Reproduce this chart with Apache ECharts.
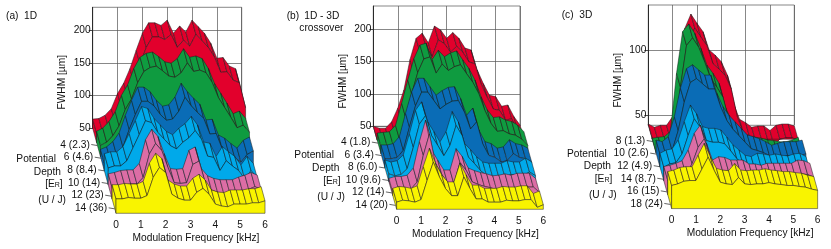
<!DOCTYPE html>
<html><head><meta charset="utf-8">
<script src="https://cdn.jsdelivr.net/npm/echarts@6/dist/echarts.min.js"></script>
<style>html,body{margin:0;padding:0;background:#fff}#c{width:831px;height:249px}</style>
</head><body><div id="c"></div>
<script>
const freqs=[0,.25,.5,.75,1,1.25,1.5,1.75,2,2.25,2.5,2.75,3,3.25,3.5,3.75,4,4.25,4.5,4.75,5,5.25,5.5,5.75,6];
const colors=['#e2002c','#0f9b40','#0a6cb6','#00a9ea','#dc6da5','#f9f400'];

// panel (a) 1D
const a4 =[64,65,70,80,103,119,141,169,195,211,211,207,215,195,206,197,215,205,195,180,157,158,145,141,103];
const a6 =[67,72,82,97,122,138,163,180,186,188,181,173,171,178,193,180,182,178,163,140,125,110,94,98,87];
const a8 =[61,65,73,86,113,136,156,156,149,136,127,129,141,162,149,139,130,106,107,83,78,70,63,75,80];
const a10=[76,79,79,87,107,127,148,145,130,120,110,105,115,122,133,120,94,92,72,87,79,72,59,72,61];
const a12=[67,69,72,73,73,83,119,135,124,98,75,74,75,103,108,75,64,60,58,58,58,62,65,69,65];
const a14=[72,72,74,73,73,77,105,120,112,79,73,70,70,82,88,79,64,61,60,64,64,64,66,66,69];
const depthA=['4 (2.3)','6 (4.6)','8 (8.4)','10 (14)','12 (23)','14 (36)'];

// panel (b) 1D - 3D crossover
const b4 =[50,47,47,57,78,106,153,186,194,179,205,199,186,195,186,171,168,137,116,98,96,81,83,65,52];
const b6 =[61,62,63,73,107,143,176,197,200,175,189,179,185,188,174,161,143,117,97,85,86,81,79,73,63];
const b8 =[64,64,66,77,113,146,167,167,154,141,148,153,154,136,110,121,87,69,66,59,61,72,66,64,59];
const b10=[62,59,61,70,103,139,152,121,106,90,106,137,121,88,78,67,59,57,57,57,61,59,59,65,59];
const b12=[55,58,58,60,71,112,145,99,83,68,68,101,89,71,67,64,62,59,60,62,60,63,63,63,55];
const b14=[61,64,63,61,65,95,123,100,82,71,71,100,82,66,66,61,61,61,64,63,63,65,65,53,57];
const depthB=['4 (1.8)','6 (3.4)','8 (6.0)','10 (9.6)','12 (14)','14 (20)'];

// panel (c) 3D
const c8 =[43,40.5,42,42,48.7,79,116.6,127.6,120.5,114,100,96,91,80.7,59,46.6,44,40.5,41.5,41.5,38,42,43,43,41.5];
const c10=[42.7,43.5,44,48,92.7,124.8,130.7,123.5,112,99,92.7,85,67,56.8,51.7,46.5,44,43.5,42.7,41.4,41,40,40,41.4,43.5];
const c12=[52,50.8,54.6,70,92,107,110,106,102,102,88,77.7,71,66,61,56,54.6,53,50.8,48,49.5,50.8,50.8,50.8,52];
const c14=[52.5,55,56,62.8,77,89.7,83,73,71.7,71.7,70.5,65,59,55,51,50,52.5,52,51,52,51,50.5,52,52.5,50];
const c16=[53,54,55.5,57.5,65.8,78.6,85,71,58,60.6,60,58,58,58,55,55,54,55.5,55.5,55.5,55.5,55.5,58,57.5,55.5];
const c18=[59.8,61,63,63.6,63.6,72.6,81.6,71.3,62.3,61,60.5,66,61,60.5,61,61,62,61,60.5,59.8,59.8,59,58.5,57,56];
const depthC=['8 (1.3)','10 (2.6)','12 (4.9)','14 (8.7)','16 (15)','18 (24)'];

const panels=[
 {rows:[a4,a6,a8,a10,a12,a14],depth:depthA,left:92.7,width:149,top:7.3,bottom:128.3,min:50,max:234.6,ticks:[50,100,150,200],
  shift:[23.33,85],lab:[1.18,.894],nameShift:11,yName:[26,29],title:[['(a)  1D',6,17]],
  side:[['Potential',56,159],['Depth',61,172],['[E{s|R}]',62.7,184],['(U / J)',66,200]]},
 {rows:[b4,b6,b8,b10,b12,b14],depth:depthB,left:373.3,width:146.7,top:6,bottom:126.3,min:50,max:236,ticks:[50,100,150,200],
  shift:[23.33,83],lab:[1.18,.9],nameShift:11,yName:[25,30],title:[['(b)\u20021D - 3D',286.7,17],['crossover',299.3,29]],
  side:[['Potential',334,155],['Depth',339.3,168],['[E{s|R}]',340.7,181],['(U / J)',345,197]]},
 {rows:[c8,c10,c12,c14,c16,c18],depth:depthC,left:648.3,width:146,top:5,bottom:125.3,min:42,max:134.6,ticks:[50,100],
  shift:[23.33,83.3],lab:[1.13,.907],nameShift:11,yName:[25,30],title:[['(c)  3D',561.7,16]],
  side:[['Potential',606.7,154],['Depth',611,166],['[E{s|R}]',612.3,179],['(U / J)',616.7,195]]}
];

const FONT='Liberation Sans, Arial, sans-serif';
const FS=10.2;
const xAxis=[],yAxis=[],grid=[],series=[],graphic=[];

panels.forEach((p,k)=>{
  const wall=k*2, front=k*2+1;
  const frontBottom=p.bottom+p.shift[1], frontLeft=p.left+p.shift[0];
  grid.push({left:p.left,width:p.width,top:p.top,height:p.bottom-p.top,show:true,backgroundColor:'transparent',borderColor:'#555',borderWidth:.7});
  grid.push({left:frontLeft,width:p.width,top:frontBottom-10,height:10});
  xAxis.push({gridIndex:wall,type:'value',min:0,max:6,interval:1,axisLine:{show:false},axisTick:{show:false},axisLabel:{show:false},
    splitLine:{show:true,lineStyle:{color:'#555',width:.7}}});
  yAxis.push({gridIndex:wall,type:'value',min:p.min,max:p.max,
    axisTick:{show:true,length:4,lineStyle:{color:'#222',width:.8},customValues:p.ticks},
    axisLine:{show:true,lineStyle:{color:'#222',width:.9}},
    axisLabel:{fontFamily:FONT,fontSize:FS,color:'#111',margin:2,customValues:p.ticks},
    splitLine:{show:true,lineStyle:{color:'#555',width:.7}},
    name:'FWHM [µm]',nameLocation:'middle',nameGap:p.yName[0],
    nameTextStyle:{fontFamily:FONT,fontSize:FS,color:'#111',padding:[0,p.yName[1],0,0]}});
  xAxis.push({gridIndex:front,type:'value',min:0,max:6,interval:1,axisLine:{show:false},axisTick:{show:false},
    axisLabel:{fontFamily:FONT,fontSize:FS,color:'#111',margin:6.5},splitLine:{show:false},
    name:'Modulation Frequency [kHz]',nameLocation:'middle',nameGap:20,
    nameTextStyle:{fontFamily:FONT,fontSize:FS,color:'#111',padding:[0,0,0,p.nameShift]}});
  yAxis.push({gridIndex:front,type:'value',min:0,max:1,show:false});

  const dStep=[p.shift[0]/6,p.shift[1]/6];
  const stroke={stroke:'#1a1a1a',lineWidth:.5,lineJoin:'round'};
  series.push({type:'custom',xAxisIndex:wall,yAxisIndex:wall,clip:false,silent:true,z:3,
    data:p.rows.map((r,i)=>[i]),encode:{x:0,y:0},
    renderItem:(params,api)=>{
      const i=api.value(0), vals=p.rows[i];
      const pt=(f,v,d)=>{const c=api.coord([f,v]);return [c[0]+d*dStep[0],c[1]+d*dStep[1]];};
      const kids=[];let z=i*100;
      const fill=colors[i];
      kids.push({type:'polygon',z2:z++,shape:{points:[pt(0,vals[0],i),pt(0,vals[0],i+1),pt(0,p.min,i+1),pt(0,p.min,i)]},style:{fill,...stroke}});
      for(let j=0;j<freqs.length-1;j++){
        kids.push({type:'polygon',z2:z,shape:{points:[pt(freqs[j],vals[j],i),pt(freqs[j+1],vals[j+1],i),pt(freqs[j+1],vals[j+1],i+1),pt(freqs[j],vals[j],i+1)]},style:{fill,...stroke}});
      }
      z++;
      const facePts=freqs.map((f,j)=>pt(f,vals[j],i+1));
      facePts.push(pt(6,p.min,i+1),pt(0,p.min,i+1));
      kids.push({type:'polygon',z2:z,shape:{points:facePts},style:{fill,...stroke}});
      return {type:'group',children:kids};
    }});
  series.push({type:'custom',xAxisIndex:wall,yAxisIndex:wall,clip:false,silent:true,z:2,
    data:p.depth.map((t,i)=>[i]),encode:{x:0,y:0},
    renderItem:(params,api)=>{
      const i=api.value(0), d=p.lab[0]+p.lab[1]*i;
      const c=api.coord([0,p.min]);const x=c[0]+d*dStep[0],y=c[1]+d*dStep[1];
      return {type:'group',children:[
        {type:'line',shape:{x1:x-6,y1:y-.5,x2:x,y2:y+.5},style:{stroke:'#222',lineWidth:.7}},
        {type:'text',style:{text:p.depth[i],x:x-7.5,y:y,align:'right',verticalAlign:'middle',fill:'#111',font:FS+'px '+FONT}}
      ]};
    }});
  p.title.forEach(t=>graphic.push({type:'text',left:t[1],top:t[2]-6,style:{text:t[0],fill:'#111',font:FS+'px '+FONT}}));
  p.side.forEach(t=>graphic.push({type:'text',x:t[1],y:t[2],style:{text:t[0],align:'right',verticalAlign:'middle',fill:'#111',font:FS+'px '+FONT,
     rich:{s:{fontSize:7,fontFamily:FONT,fill:'#111',verticalAlign:'bottom'}}}}));
});

const chart=echarts.init(document.getElementById('c'),null,{renderer:'canvas'});
chart.setOption({animation:false,backgroundColor:'#fff',grid,xAxis,yAxis,series,graphic});
</script></body></html>
